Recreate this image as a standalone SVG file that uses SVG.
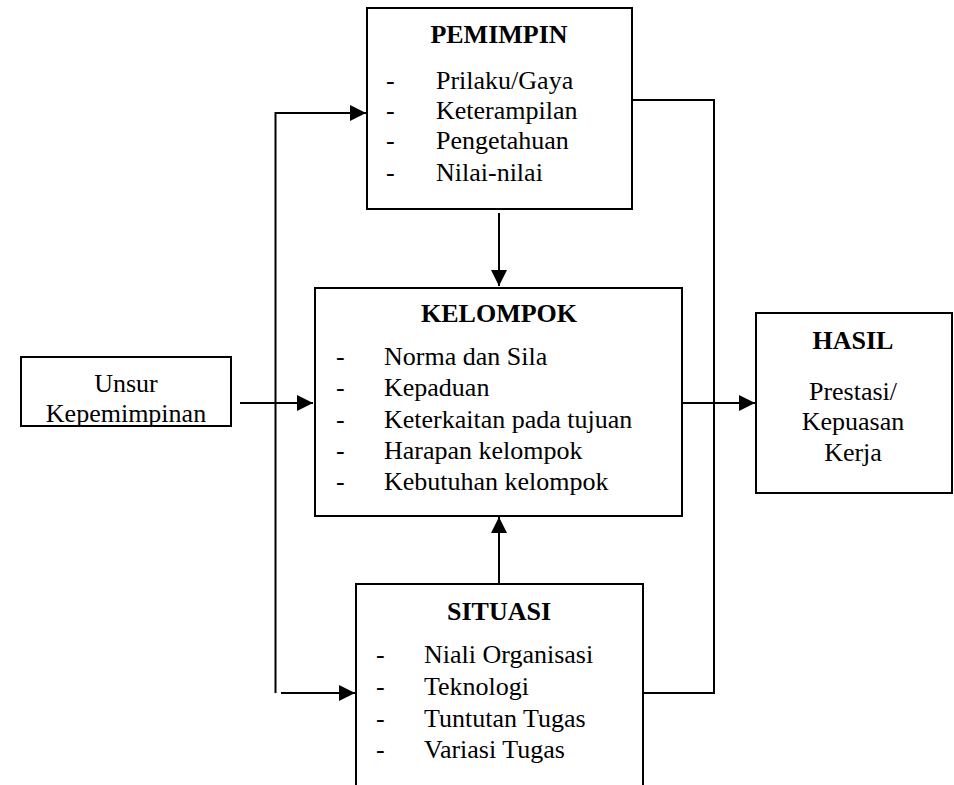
<svg xmlns="http://www.w3.org/2000/svg" width="954" height="785" viewBox="0 0 954 785" font-family="'Liberation Serif', 'DejaVu Serif', serif" font-size="26">
<defs>
<style>
.box{fill:#fff;stroke:#000;stroke-width:2}
.ln{fill:none;stroke:#000;stroke-width:2}
.txt{font-family:'Liberation Serif','DejaVu Serif',serif;font-size:26px;fill:#000}
.t{font-weight:bold;text-anchor:middle}
.c{text-anchor:middle}
</style>
<marker id="ah" markerUnits="userSpaceOnUse" markerWidth="16" markerHeight="16" viewBox="0 0 16 16" refX="16" refY="8" orient="auto">
<path d="M0,0 L16,8 L0,16 Z" fill="#000"/>
</marker>
</defs>
<rect width="954" height="785" fill="#fff"/>
<g id="connectors">
<path class="ln" d="M275.5,693 V113 H366" marker-end="url(#ah)"/>
<path class="ln" d="M281,693 H355" marker-end="url(#ah)"/>
<path class="ln" d="M632,100 H714 V693 H643"/>
<path class="ln" d="M499,213 V286" marker-end="url(#ah)"/>
<path class="ln" d="M499,584 V517" marker-end="url(#ah)"/>
<path class="ln" d="M240,403 H313" marker-end="url(#ah)"/>
<path class="ln" d="M682,403 H755" marker-end="url(#ah)"/>
</g>
<g id="pemimpin" class="txt">
<rect class="box" x="367" y="8" width="265" height="201"/>
<text class="t" x="499" y="43">PEMIMPIN</text>
<text x="386" y="89">-</text><text x="436" y="89">Prilaku/Gaya</text>
<text x="386" y="119">-</text><text x="436" y="119">Keterampilan</text>
<text x="386" y="149">-</text><text x="436" y="149">Pengetahuan</text>
<text x="386" y="181">-</text><text x="436" y="181">Nilai-nilai</text>
</g>
<g id="kelompok" class="txt">
<rect class="box" x="315" y="288" width="367" height="228"/>
<text class="t" x="499" y="322">KELOMPOK</text>
<text x="336" y="365">-</text><text x="384" y="365">Norma dan Sila</text>
<text x="336" y="396">-</text><text x="384" y="396">Kepaduan</text>
<text x="336" y="428">-</text><text x="384" y="428">Keterkaitan pada tujuan</text>
<text x="336" y="459">-</text><text x="384" y="459">Harapan kelompok</text>
<text x="336" y="490">-</text><text x="384" y="490">Kebutuhan kelompok</text>
</g>
<g id="unsur" class="txt">
<rect class="box" x="21" y="357" width="210" height="69"/>
<text class="c" x="126" y="392">Unsur</text>
<text class="c" x="126" y="422">Kepemimpinan</text>
</g>
<g id="hasil" class="txt">
<rect class="box" x="756" y="313" width="196" height="180"/>
<text class="t" x="853" y="349">HASIL</text>
<text class="c" x="853" y="400">Prestasi/</text>
<text class="c" x="853" y="430">Kepuasan</text>
<text class="c" x="853" y="461">Kerja</text>
</g>
<g id="situasi" class="txt">
<rect class="box" x="356" y="584" width="287" height="230"/>
<text class="t" x="499" y="620">SITUASI</text>
<text x="376" y="663">-</text><text x="424" y="663">Niali Organisasi</text>
<text x="376" y="695">-</text><text x="424" y="695">Teknologi</text>
<text x="376" y="727">-</text><text x="424" y="727">Tuntutan Tugas</text>
<text x="376" y="758">-</text><text x="424" y="758">Variasi Tugas</text>
</g>
</svg>
